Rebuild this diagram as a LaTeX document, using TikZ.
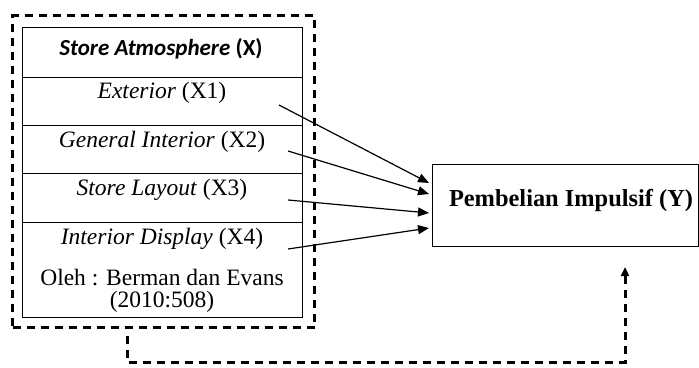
\documentclass[tikz,border=0pt]{standalone}
\usepackage{fontspec}
\setmainfont{Liberation Serif}
\newfontfamily\calfont{Carlito}
\usetikzlibrary{arrows.meta}
\begin{document}
\begin{tikzpicture}[x=1pt,y=-1pt,
 rowbox/.style={draw, line width=1.2pt, minimum width=280pt, anchor=north west, inner sep=0pt},
 rowtext/.style={font=\fontsize{23.5}{26}\selectfont, inner sep=0pt},
 dashline/.style={line width=3pt, dash pattern=on 8pt off 6pt},
 link/.style={line width=1.2pt, -{Triangle[length=11pt,width=9pt]}}]
\useasboundingbox (0,0) rectangle (699,367);
% outer dashed box
\node[draw, dashline, minimum width=302pt, minimum height=312pt, anchor=north west, inner sep=0pt] (outer) at (11,14) {};
% rows
\node[rowbox, minimum height=50pt] (r0) at (22,27) {};
\node[rowbox, minimum height=48pt] (r1) at (22,77) {};
\node[rowbox, minimum height=48pt] (r2) at (22,125) {};
\node[rowbox, minimum height=49pt] (r3) at (22,173) {};
\node[rowbox, minimum height=95pt] (r4) at (22,222) {};
% texts
\node[inner sep=0pt, font=\fontsize{23}{26}\selectfont\calfont\bfseries] (t0) at (161,49) {\itshape Store Atmosphere \upshape(X)};
\node[rowtext] (t1) at (162,93) {\textit{Exterior} (X1)};
\node[rowtext] (t2) at (162,142) {\textit{General Interior} (X2)};
\node[rowtext] (t3) at (162,190) {\textit{Store Layout} (X3)};
\node[rowtext] (t4) at (162,239) {\textit{Interior Display} (X4)};
\node[rowtext] (t5) at (162,278) {Oleh : Berman dan Evans};
\node[rowtext] (t6) at (162,302) {(2010:508)};
% Y box
\node[draw, line width=1.2pt, minimum width=266pt, minimum height=82pt, anchor=north west, inner sep=0pt] (ybox) at (432,164) {};
\node[inner sep=0pt, font=\fontsize{24.4}{27}\selectfont\bfseries] (yt) at (571,201) {Pembelian Impulsif (Y)};
% arrows
\coordinate (s1) at (279,105); \coordinate (e1) at (429,183);
\coordinate (s2) at (288,151); \coordinate (e2) at (429,194);
\coordinate (s3) at (288,200); \coordinate (e3) at (429,213);
\coordinate (s4) at (288,249); \coordinate (e4) at (429,228);
\draw[link] (s1) -- (e1);
\draw[link] (s2) -- (e2);
\draw[link] (s3) -- (e3);
\draw[link] (s4) -- (e4);
% feedback
\coordinate (f0) at (127,336);
\coordinate (fc) at (625,362);
\coordinate (fe) at (625,267);
\draw[dashline, -{Triangle[length=9pt,width=8pt]}] (f0) |- (fc) -- (fe);
\end{tikzpicture}
\end{document}
